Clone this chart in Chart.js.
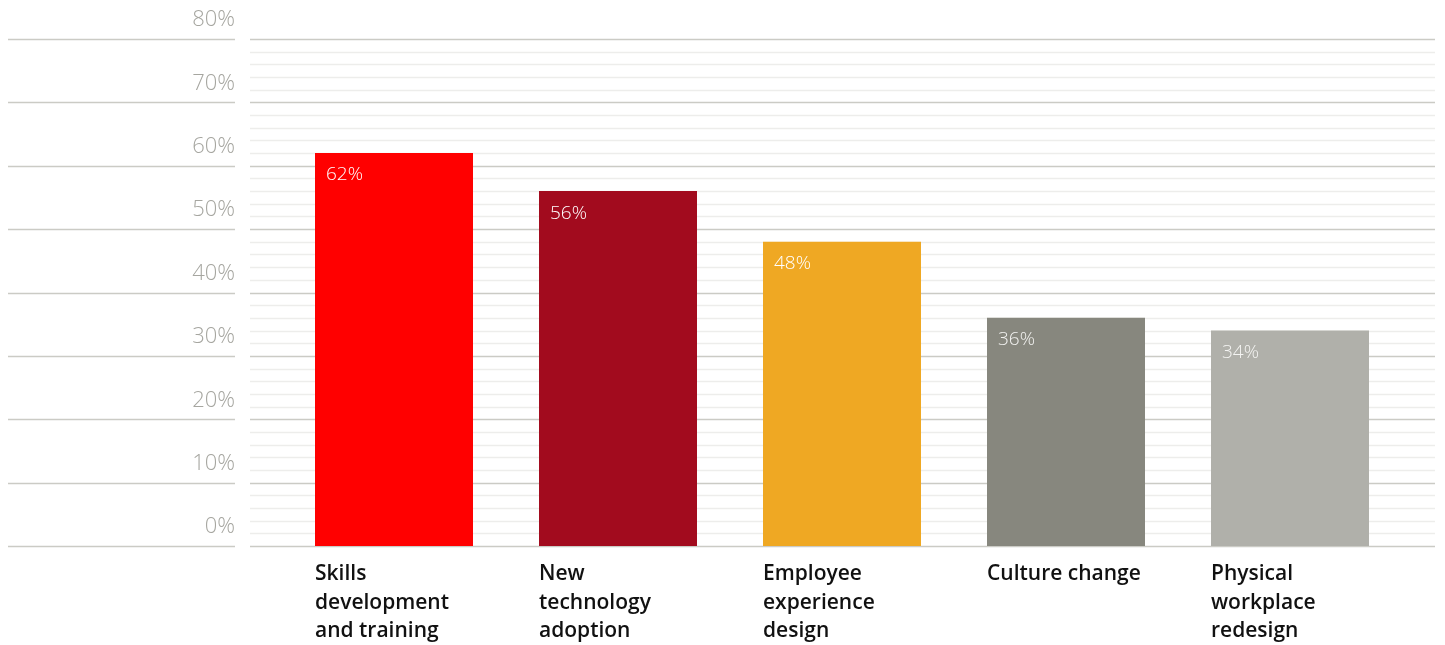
<!DOCTYPE html>
<html>
<head>
<meta charset="utf-8">
<script src="https://cdn.jsdelivr.net/npm/chart.js@4"></script>
<style>
html,body{margin:0;padding:0;background:#fff;}
#wrap{width:1445px;height:645px;position:relative;}
</style>
</head>
<body>
<div id="wrap"><canvas id="c" width="1445" height="645"></canvas></div>
<script>
const categories = [
  ["Skills", "development", "and training"],
  ["New", "technology", "adoption"],
  ["Employee", "experience", "design"],
  ["Culture change"],
  ["Physical", "workplace", "redesign"]
];
const values = [62, 56, 48, 36, 34];
const barColors = ["#FF0000", "#A20B1E", "#EFA823", "#87877E", "#B0B0AA"];
const valueLabelColors = ["#ffffff", "#ffffff", "#ffffff", "#f2f2f0", "#f4f4f2"];
const yTicks = [0, 10, 20, 30, 40, 50, 60, 70, 80];
const minorStep = 2;

const gridPlugin = {
  id: 'customGrid',
  beforeDatasetsDraw(chart) {
    const ctx = chart.ctx;
    const y = chart.scales.y;
    ctx.save();
    for (let v = 0; v <= 80; v += minorStep) {
      if (v % 10 === 0) continue;
      const py = Math.round(y.getPixelForValue(v)) + 0.5;
      ctx.strokeStyle = '#ededeb';
      ctx.lineWidth = 1.5;
      ctx.beginPath(); ctx.moveTo(250, py); ctx.lineTo(1435, py); ctx.stroke();
    }
    yTicks.forEach(v => {
      const py = Math.round(y.getPixelForValue(v)) + 0.5;
      ctx.strokeStyle = '#cbcbc5';
      ctx.lineWidth = 1.5;
      ctx.beginPath(); ctx.moveTo(8, py); ctx.lineTo(235, py); ctx.stroke();
      ctx.beginPath(); ctx.moveTo(250, py); ctx.lineTo(1435, py); ctx.stroke();
    });
    ctx.restore();
  },
  afterDatasetsDraw(chart) {
    const ctx = chart.ctx;
    const meta = chart.getDatasetMeta(0);
    ctx.save();
    ctx.font = '300 19px "Open Sans"';
    ctx.textAlign = 'left';
    ctx.textBaseline = 'middle';
    meta.data.forEach((bar, i) => {
      const left = bar.x - bar.width / 2;
      ctx.fillStyle = valueLabelColors[i];
      ctx.fillText(values[i] + '%', left + 11, bar.y + 22);
    });
    ctx.restore();
  }
};

new Chart(document.getElementById('c'), {
  type: 'bar',
  data: {
    labels: categories,
    datasets: [{
      data: values,
      backgroundColor: barColors,
      borderWidth: 0,
      categoryPercentage: 1,
      barPercentage: 158 / 224
    }]
  },
  options: {
    responsive: false,
    animation: false,
    devicePixelRatio: 1,
    layout: { padding: { left: 0, right: 43, top: 39, bottom: 0 } },
    plugins: { legend: { display: false }, tooltip: { enabled: false } },
    scales: {
      x: {
        grid: { display: false, drawTicks: false },
        border: { display: false },
        afterFit(scale) { scale.height = 99; },
        ticks: {
          align: 'start',
          labelOffset: -79,
          padding: 14,
          maxRotation: 0,
          autoSkip: false,
          color: '#111111',
          font: { family: '"Open Sans"', size: 21, weight: 600, lineHeight: 1.36 }
        }
      },
      y: {
        min: 0, max: 80,
        grid: { display: false, drawTicks: false },
        border: { display: false },
        afterFit(scale) { scale.width = 282; scale.paddingTop = 0; scale.paddingBottom = 0; },
        afterBuildTicks(scale) { scale.ticks = yTicks.map(v => ({ value: v })); },
        ticks: {
          padding: 47,
          labelOffset: -19,
          color: '#a6a6a0',
          font: { family: '"Open Sans"', size: 22, weight: 300 },
          callback: v => v + '%'
        }
      }
    }
  },
  plugins: [gridPlugin]
});
</script>
</body>
</html>
